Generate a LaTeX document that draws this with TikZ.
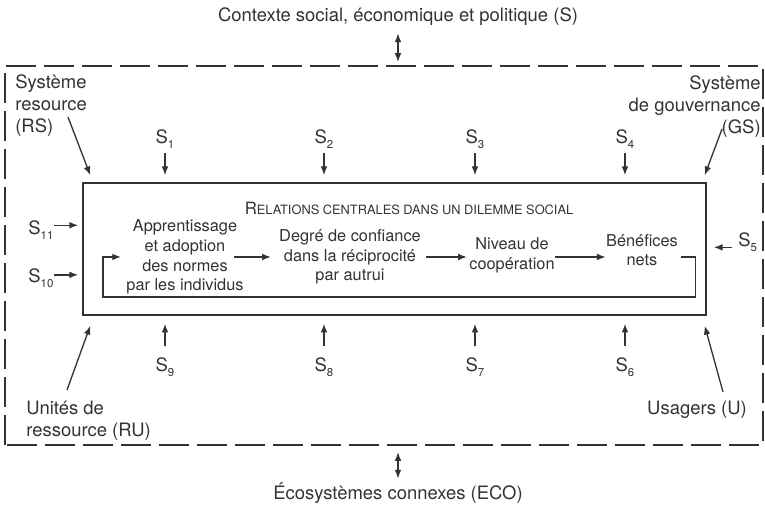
\documentclass[tikz,border=0pt]{standalone}
\usepackage{fontspec}
\setmainfont{TeX Gyre Heros}
\usetikzlibrary{arrows.meta,calc}
\definecolor{ink}{HTML}{333333}
\newcommand{\vsub}[1]{\raisebox{-0.45ex}{\fontsize{6.5}{7}\selectfont #1}}

\begin{document}
\begin{tikzpicture}[x=0.02cm, y=-0.02cm,
        every node/.style={text=ink, inner sep=0pt},
        outer/.style={font=\fontsize{10.5}{12.5}\selectfont},
        inner/.style={font=\fontsize{9.3}{11.2}\selectfont, align=center},
        slab/.style={font=\fontsize{10.5}{12}\selectfont},
        arr/.style={draw=ink, line width=0.75pt, -{Latex[length=5pt,width=3.8pt]}},
        dbl/.style={draw=ink, line width=0.75pt, {Latex[length=5pt,width=3.8pt]}-{Latex[length=5pt,width=3.8pt]}},
        frame/.style={draw=ink, line width=0.9pt, dash pattern=on 0.6cm off 0.16cm}]
        \useasboundingbox (0,0) rectangle (765,509);

        % Outer dashed frame and the two contexts
        \draw[frame] (5,445) -- (5,66) -- (763,66) -- (763,445) -- cycle;
        \node[outer] (ctx) at (398,17) {Contexte social, économique et politique (S)};
        \node[outer] (eco) at (398,493) {Écosystèmes connexes (ECO)};
        \coordinate (ctxfoot) at (398,66);
        \coordinate (ecofoot) at (398,445);
        \draw[dbl, shorten <=4pt, shorten >=2.3pt] (ctx.south) -- (ctxfoot);
        \draw[dbl, shorten <=4pt, shorten >=2pt] (ecofoot) -- (eco.north);

        % Central box
        \node[draw=ink, line width=0.9pt, minimum width=12.46cm, minimum height=2.64cm] (box) at (394.5,249) {};
        \node (title) at (409,208) {{\fontsize{9.6}{11}\selectfont R}{\fontsize{7.3}{11}\selectfont ELATIONS CENTRALES DANS UN DILEMME SOCIAL}};

        \node[inner] (na) at (185,257) {Apprentissage\\et adoption\\des normes\\par les individus};
        \node[inner] (nb) at (350,257) {Degré de confiance\\dans la réciprocité\\par autrui};
        \node[inner] (nc) at (512,255) {Niveau de\\coopération};
        \node[inner] (nd) at (642,250) {Bénéfices\\nets};
        \coordinate (loopl) at (103,297);

        \draw[arr] ([xshift=-0.2cm]na.east) -- ([xshift=-0.16cm]na.east -| nb.west);
        \draw[arr] ([xshift=0.1cm]nb.east) -- ([xshift=-0.04cm]nb.east -| nc.west);
        \draw[arr] (na.east -| nc.east) -- (na.east -| nd.west);
        \draw[arr] ([xshift=0.06cm]na.east -| nd.east) -- ++(14,0) |- (loopl) |- ([xshift=-0.1cm]na.west);

        % The four subsystems
        \node[outer, align=left, anchor=north west] (rs) at (15,74) {Système\\resource\\(RS)};
        \node[outer, align=right, anchor=north east] (gs) at (761,75) {Système\\de gouvernance\\(GS)};
        \node[outer, align=left, anchor=north west] (ru) at (26,401) {Unités de\\ressource (RU)};
        \node[outer] (us) at (697,410) {Usagers (U)};
        \coordinate (rsfoot) at (68,117);
        \coordinate (gsfoot) at (722,129);
        \coordinate (rufoot) at (67,390);
        \coordinate (usfoot) at (723,392);
        \draw[arr] (rsfoot) -- ($(box.north west)+(8,-7)$);
        \draw[arr] (gsfoot) -- ($(box.north east)+(-2,-7)$);
        \draw[arr] (rufoot) -- ($(box.south west)+(8,10)$);
        \draw[arr] (usfoot) -- ($(box.south east)+(-2,10)$);

        % Second-level variables
        \node[slab, anchor=base] (s1) at (165,144) {S\vsub{1}};
        \node[slab, anchor=base] (s2) at (324,144) {S\vsub{2}};
        \node[slab, anchor=base] (s3) at (475,144) {S\vsub{3}};
        \node[slab, anchor=base] (s4) at (625,144) {S\vsub{4}};
        \node[slab, anchor=base] (s9) at (165,372) {S\vsub{9}};
        \node[slab, anchor=base] (s8) at (324,372) {S\vsub{8}};
        \node[slab, anchor=base] (s7) at (475,372) {S\vsub{7}};
        \node[slab, anchor=base] (s6) at (625,372) {S\vsub{6}};
        \node[slab, anchor=base west] (s11) at (28,235) {S\vsub{11}};
        \node[slab, anchor=base west] (s10) at (28,283) {S\vsub{10}};
        \node[slab, anchor=base west] (s5) at (738,247) {S\vsub{5}};

        \foreach \s in {s1,s2,s3,s4}
            \draw[arr, shorten <=2.5pt, shorten >=4pt] (\s.south) -- (\s.south |- box.north);
        \foreach \s in {s9,s8,s7,s6}
            \draw[arr, shorten <=6.5pt, shorten >=4.5pt] (\s.north) -- (\s.north |- box.south);
        \draw[arr, shorten >=2.3pt] ([yshift=0.1cm]s11.east) -- ([yshift=0.1cm]s11.east -| box.west);
        \draw[arr, shorten >=2.3pt] ([yshift=0.07cm]s10.east) -- ([yshift=0.07cm]s10.east -| box.west);
        \draw[arr, shorten >=4pt] ([xshift=-0.12cm,yshift=-0.1cm]s5.west) -- ([yshift=-0.1cm]s5.west -| box.east);
    \end{tikzpicture}
\end{document}
